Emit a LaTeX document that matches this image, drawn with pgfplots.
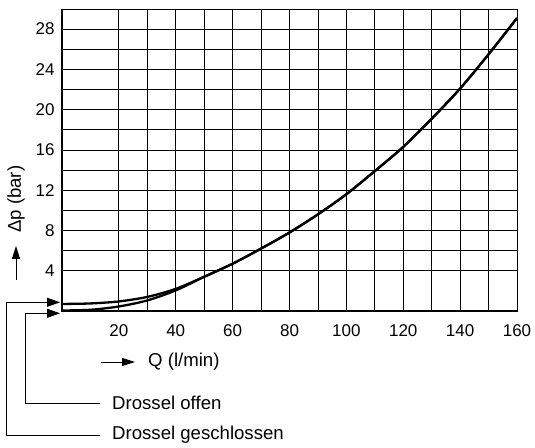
\documentclass[border=0pt]{standalone}
\usepackage{fontspec}
\setmainfont{Liberation Sans}
\usepackage{pgfplots}
\pgfplotsset{compat=1.18}
\usetikzlibrary{arrows.meta}
\begin{document}
\begin{tikzpicture}
\useasboundingbox (0pt,0pt) rectangle (535pt,447pt);
\begin{axis}[
  at={(62pt,136pt)}, anchor=south west,
  scale only axis, width=455pt, height=302pt,
  xmin=0, xmax=160, ymin=0, ymax=30,
  xtick={20,40,...,160}, ytick={4,8,...,28},
  minor x tick num=1, minor y tick num=1,
  grid=both,
  major grid style={black, line width=0.8pt},
  minor grid style={black, line width=0.8pt},
  major tick length=0pt, minor tick length=0pt,
  axis line style={black, line width=0.8pt},
  /pgf/number format/assume math mode=true,
  tick label style={font=\fontsize{17}{20}\selectfont},
  xticklabel style={yshift=-10pt},
  yticklabel style={xshift=-4pt},
  clip=false,
]
\addplot[black, line width=2.3pt, smooth, tension=0.5] coordinates {
 (0,0.7) (10,0.75) (20,0.95) (30,1.4) (40,2.2) (50,3.4) (60,4.7) (70,6.2)
 (80,7.8) (90,9.6) (100,11.6) (110,13.9) (120,16.3) (130,19.1) (140,22.1)
 (150,25.5) (160,29.1)};
\addplot[black, line width=2.3pt, smooth, tension=0.5] coordinates {
 (0,0.05) (10,0.12) (20,0.45) (30,1.05) (40,2.05) (50,3.4) (60,4.7) (70,6.2)
 (80,7.8) (90,9.6) (100,11.6) (110,13.9) (120,16.3) (130,19.1) (140,22.1)
 (150,25.5) (160,29.1)};
\draw[black, line width=1.6pt] (axis cs:0,30) -- (axis cs:0,0) -- (axis cs:160,0);
\end{axis}
\begin{scope}[font=\fontsize{18.6}{22}\selectfont]
% x label
\draw[line width=0.8pt, -{Triangle[length=13pt,width=8pt]}] (101pt,85pt) -- (135pt,85pt);
\node[anchor=west, inner sep=0pt] at (148pt,85pt) {Q (l/min)};
% y label
\draw[line width=0.8pt, -{Triangle[length=13pt,width=8pt]}] (16pt,167pt) -- (16pt,201pt);
\node[anchor=west, rotate=90, inner sep=0pt] at (16pt,214pt) {Δp (bar)};
% annotations
\draw[line width=0.8pt, -{Triangle[length=13pt,width=9pt]}] (100pt,12pt) -- (6pt,12pt) -- (6pt,144.7pt) -- (60pt,144.7pt);
\node[anchor=west, inner sep=0pt] at (112pt,12pt) {Drossel geschlossen};
\draw[line width=0.8pt, -{Triangle[length=13pt,width=9pt]}] (100pt,43.7pt) -- (25pt,43.7pt) -- (25pt,133.7pt) -- (60pt,133.7pt);
\node[anchor=west, inner sep=0pt] at (112pt,43.7pt) {Drossel offen};
\end{scope}
\end{tikzpicture}
\end{document}
